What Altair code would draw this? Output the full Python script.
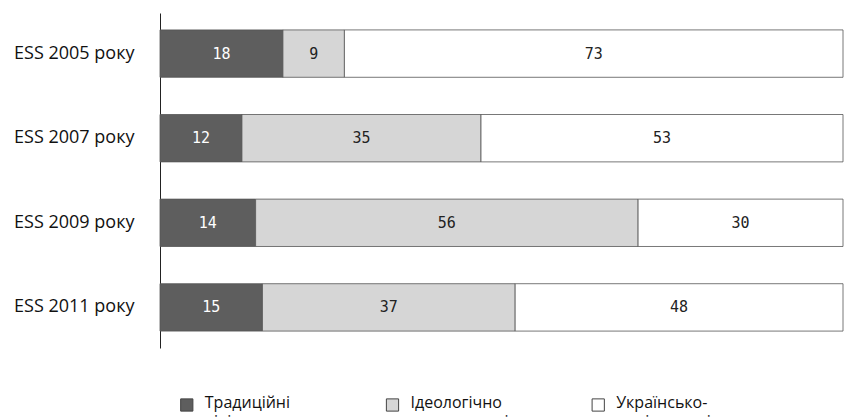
import altair as alt
import pandas as pd

surveys = ["ESS 2005 року", "ESS 2007 року", "ESS 2009 року", "ESS 2011 року"]
groups = ["Традиційні|ліві", "Ідеологічно|невизначені", "Українсько-|національні"]
traditional = [18, 12, 14, 15]
undefined = [9, 35, 56, 37]
national = [73, 53, 30, 48]

rows = []
for i, s in enumerate(surveys):
    for k, (g, vals) in enumerate(zip(groups, [traditional, undefined, national])):
        rows.append({"survey": s, "group": g, "order": k, "value": vals[i]})
df = pd.DataFrame(rows)
legend_df = pd.DataFrame({"group": groups, "order": [0, 1, 2]})

font = "Open Sans"
colors = alt.Scale(domain=groups, range=["#5e5e5e", "#d6d6d6", "#ffffff"])

y = alt.Y("survey:N", sort=surveys, title=None,
          scale=alt.Scale(paddingInner=0.44, paddingOuter=0.2),
          axis=alt.Axis(ticks=False, labelFontSize=18, labelPadding=26,
                        labelColor="#111", domainColor="#222", labelFont=font))

bars = alt.Chart(df).mark_bar(stroke="#555", strokeWidth=0.8).encode(
    x=alt.X("value:Q", stack="zero", axis=None, scale=alt.Scale(domain=[0, 100], nice=False)),
    y=y,
    order=alt.Order("order:Q"),
    color=alt.Color("group:N", scale=colors, legend=None),
)

labels = alt.Chart(df).transform_stack(
    stack="value", groupby=["survey"], as_=["x0", "x1"],
    sort=[alt.SortField("order")]
).transform_calculate(mid="(datum.x0 + datum.x1) / 2").mark_text(
    fontSize=15, font="DejaVu Sans Mono"
).encode(
    x=alt.X("mid:Q", axis=None),
    y=alt.Y("survey:N", sort=surveys),
    text="value:Q",
    color=alt.condition("datum.order == 0", alt.value("white"), alt.value("#222")),
)

plot = alt.layer(bars, labels)

# hand-made legend below the plot (two-line labels)
lx = alt.X("group:N", sort=groups, axis=None,
           scale=alt.Scale(type="point", padding=0.66))
leg_sq = alt.Chart(legend_df).mark_square(size=150, stroke="#444", strokeWidth=1,
                                          opacity=1, xOffset=-109).encode(
    x=lx, y=alt.value(392),
    color=alt.Color("group:N", scale=colors, legend=None),
)
leg_tx = alt.Chart(legend_df).transform_calculate(
    label="split(datum.group, '|')"
).mark_text(align="left", baseline="top", fontSize=16, font=font, color="#111",
            lineHeight=19, xOffset=-91).encode(
    x=lx, y=alt.value(382), text="label:N",
)
legend = alt.layer(leg_sq, leg_tx)

chart = alt.layer(plot, legend).resolve_scale(x="independent").properties(
    width=683, height=335).configure_view(stroke=None)
chart.save("out.html", embed_options={"renderer": "svg", "actions": False})
